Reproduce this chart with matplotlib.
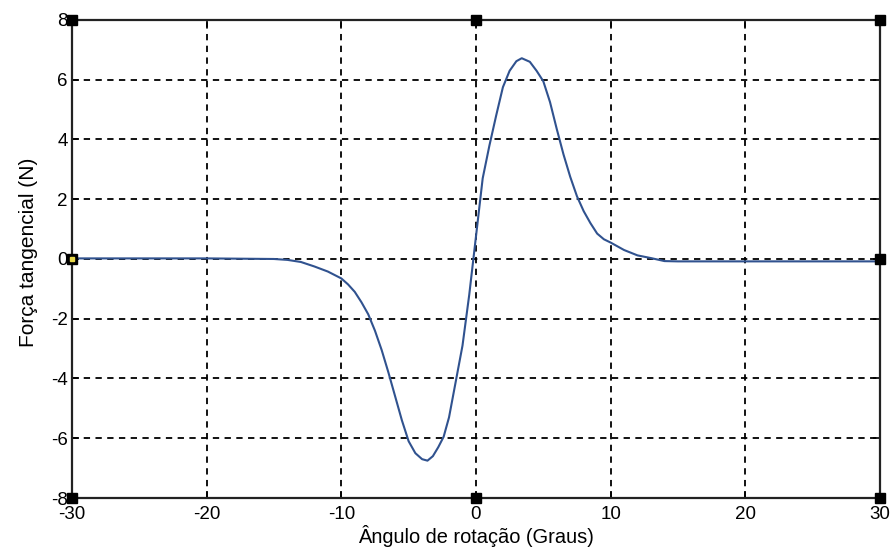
import matplotlib
matplotlib.use("Agg")
import matplotlib.pyplot as plt

angle = [-30, -20, -15, -14, -13, -12, -11, -10, -9.5, -9, -8.5, -8, -7.5, -7, -6.5,
         -6, -5.5, -5, -4.5, -4, -3.6, -3.2, -2.8, -2.4, -2, -1.5, -1, -0.5, 0, 0.5,
         1, 1.5, 2, 2.5, 3, 3.4, 4, 4.5, 5, 5.5, 6, 6.5, 7, 7.5, 8, 8.5, 9, 9.5, 10,
         11, 12, 13, 14, 15, 20, 30]
force = [0.02, 0.02, 0.0, -0.03, -0.1, -0.25, -0.42, -0.65, -0.85, -1.1, -1.45,
         -1.85, -2.4, -3.05, -3.8, -4.6, -5.4, -6.1, -6.5, -6.7, -6.75, -6.6, -6.3,
         -5.95, -5.3, -4.1, -2.9, -1.2, 0.75, 2.7, 3.8, 4.8, 5.75, 6.3, 6.62, 6.72,
         6.6, 6.3, 5.95, 5.25, 4.35, 3.5, 2.75, 2.1, 1.6, 1.2, 0.85, 0.66, 0.55, 0.3,
         0.12, 0.03, -0.07, -0.08, -0.08, -0.08]
xticks = [-30, -20, -10, 0, 10, 20, 30]
yticks = [-8, -6, -4, -2, 0, 2, 4, 6, 8]
handle_x = [-30, 0, 30, -30, 30, -30, 0, 30]
handle_y = [8, 8, 8, 0, 0, -8, -8, -8]

plt.rcParams['font.family'] = ['Liberation Sans', 'DejaVu Sans']
plt.rcParams['axes.unicode_minus'] = False

fig = plt.figure(figsize=(8.95, 5.55), dpi=100)
ax = fig.add_axes([0.0804, 0.1027, 0.9028, 0.8613])

ax.plot(angle, force, color='#30528f', linewidth=1.5, zorder=3)
ax.set_xlim(-30, 30)
ax.set_ylim(-8, 8)
ax.set_xticks(xticks)
ax.set_yticks(yticks)
ax.grid(True, color='black', linestyle=(0, (3.5, 3)), linewidth=1.3)
ax.tick_params(direction='in', length=5, width=1.2, top=True, right=True,
               labelsize=13.5, colors='black')
ax.tick_params(axis='x', pad=6)
ax.tick_params(axis='y', pad=3)
for s in ax.spines.values():
    s.set_linewidth(1.6)
    s.set_color('#222222')

ax.set_xlabel('Ângulo de rotação (Graus)', fontsize=14.4, labelpad=1)
ax.set_ylabel('Força tangencial (N)', fontsize=15, labelpad=9)
ax.yaxis.label.set_y(0.513)

ax.plot(handle_x, handle_y, linestyle='none', marker='s', markersize=7,
        color='black', clip_on=False, zorder=5)
ax.plot([-30], [0], linestyle='none', marker='s', markersize=2.5,
        color='#e8d84a', clip_on=False, zorder=6)

fig.savefig('out.png', dpi=100)
